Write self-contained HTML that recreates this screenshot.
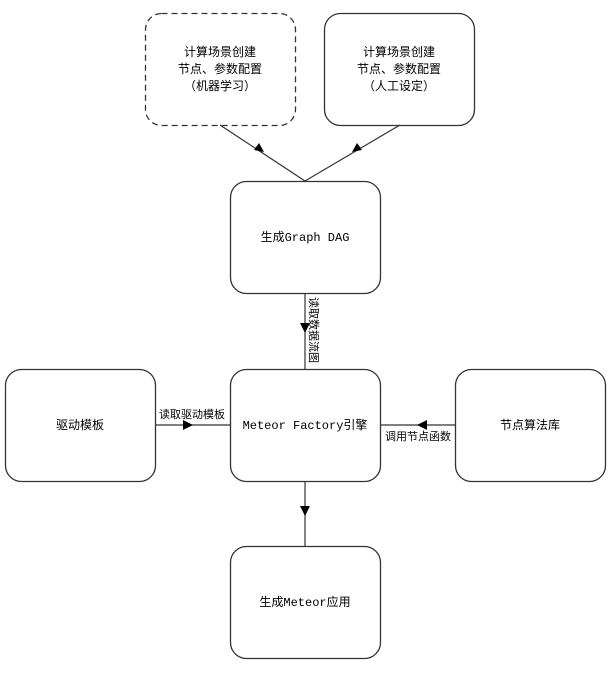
<!DOCTYPE html>
<html><head><meta charset="utf-8"><style>
html,body{margin:0;padding:0;background:#fff;width:611px;height:678px;overflow:hidden}
text{font-family:"Liberation Mono","Noto Sans CJK SC",monospace;font-size:12px;fill:#000}
</style></head><body>
<svg width="611" height="678" viewBox="0 0 611 678" xmlns="http://www.w3.org/2000/svg">
<g fill="#fff" stroke="#333" stroke-width="1.3">
<rect x="145.5" y="13.5" width="150" height="112" rx="16" stroke-dasharray="6,4"/>
<rect x="324.5" y="13.5" width="150" height="112" rx="16"/>
<rect x="230.5" y="181.5" width="150" height="112" rx="16"/>
<rect x="230.5" y="369.5" width="150" height="112" rx="16"/>
<rect x="5.5" y="369.5" width="150" height="112" rx="16"/>
<rect x="455.5" y="369.5" width="150" height="112" rx="16"/>
<rect x="230.5" y="546.5" width="150" height="112" rx="16"/>
</g>
<g stroke="#333" stroke-width="1.2" fill="none">
<line x1="220" y1="125" x2="305" y2="181"/>
<line x1="400" y1="125" x2="305" y2="181"/>
<line x1="305" y1="293" x2="305" y2="369"/>
<line x1="155" y1="425" x2="230" y2="425"/>
<line x1="455" y1="425" x2="380" y2="425"/>
<line x1="305" y1="481" x2="305" y2="546"/>
</g>
<g fill="#000">
<polygon points="264,152 254,150 259,143"/>
<polygon points="352,152 362,150 357,143"/>
<polygon points="305,333 300,323 310,323"/>
<polygon points="193,425 183,420 183,430"/>
<polygon points="417,425 427,420 427,430"/>
<polygon points="305,516 300,506 310,506"/>
</g>
<g text-anchor="middle">
<text x="220" y="56">计算场景创建</text>
<text x="220" y="73">节点、参数配置</text>
<text x="220" y="90">（机器学习）</text>
<text x="399" y="56">计算场景创建</text>
<text x="399" y="73">节点、参数配置</text>
<text x="399" y="90">（人工设定）</text>
<text x="305" y="241">生成Graph DAG</text>
<text x="305" y="429">Meteor Factory引擎</text>
<text x="80" y="429">驱动模板</text>
<text x="530" y="429">节点算法库</text>
<text x="305" y="606">生成Meteor应用</text>
<text x="192" y="418" style="font-size:11px">读取驱动模板</text>
<text x="418" y="440" style="font-size:11px">调用节点函数</text>
<text x="0" y="0" style="font-size:11px" transform="translate(310,330) rotate(90)">读取数据流图</text>
</g>
</svg>
</body></html>
